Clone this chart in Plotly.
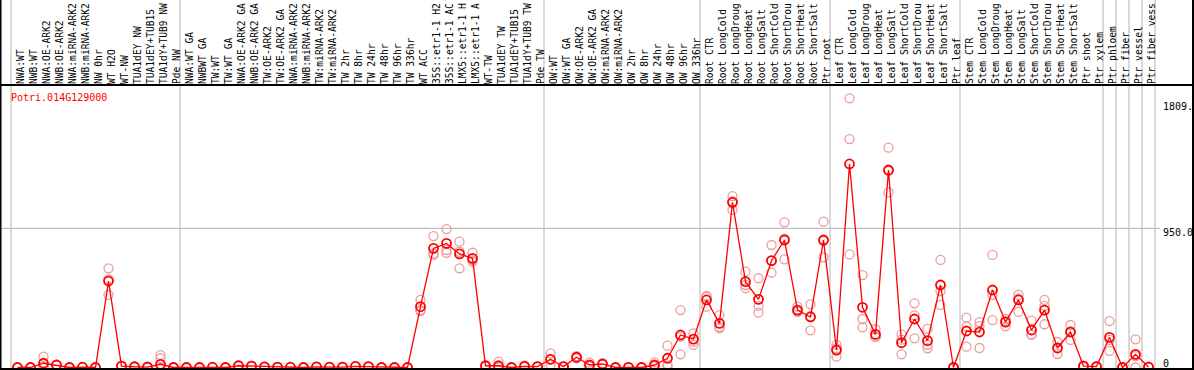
import plotly.graph_objects as go

categories = [
    "NWA:WT", "NWB:WT", "NWA:OE-ARK2", "NWB:OE-ARK2", "NWA:miRNA-ARK2", "NWB:miRNA-ARK2",
    "NW 0hr", "WT H2O", "WT-NW", "TUA1dEY NW", "TUA1dEY+TUB15", "TUA1dY+TUB9 NW", "Pde NW",
    "NWA:WT GA", "NWBWT GA", "TW:WT", "TW:WT GA", "NWA:OE-ARK2 GA", "NWB:OE-ARK2 GA",
    "TW:OE-ARK2", "TW:OE-ARK2 GA", "NWA:miRNA-ARK2", "NWB:miRNA-ARK2", "TW:miRNA-ARK2",
    "TW:miRNA-ARK2", "TW 2hr", "TW 8hr", "TW 24hr", "TW 48hr", "TW 96hr", "TW 336hr",
    "WT ACC", "35S::etr1-1 H2", "35S::etr1-1 AC", "LMX5::etr1-1 H", "LMX5::etr1-1 A",
    "WT-TW", "TUA1dEY TW", "TUA1dEY+TUB15", "TUA1dY+TUB9 TW", "Pde TW",
    "OW:WT", "OW:WT GA", "OW:OE-ARK2", "OW:OE-ARK2 GA", "OW:miRNA-ARK2", "OW:miRNA-ARK2",
    "OW 2hr", "OW 8hr", "OW 24hr", "OW 48hr", "OW 96hr", "OW 336hr",
    "Root CTR", "Root LongCold", "Root LongDroug", "Root LongHeat", "Root LongSalt",
    "Root ShortCold", "Root ShortDrou", "Root ShortHeat", "Root ShortSalt", "Ptr root",
    "Leaf CTR", "Leaf LongCold", "Leaf LongDroug", "Leaf LongHeat", "Leaf LongSalt",
    "Leaf ShortCold", "Leaf ShortDrou", "Leaf ShortHeat", "Leaf ShortSalt", "Ptr leaf",
    "Stem CTR", "Stem LongCold", "Stem LongDroug", "Stem LongHeat", "Stem LongSalt",
    "Stem ShortCold", "Stem ShortDrou", "Stem ShortHeat", "Stem ShortSalt",
    "Ptr shoot", "Ptr xylem", "Ptr phloem", "Ptr fiber", "Ptr vessel", "Ptr fiber vess",
]

# group sizes (vertical separators between groups)
group_sizes = [13, 28, 12, 10, 10, 11, 1, 1, 1, 1]

mean_values = [
    0, 0, 29, 17, 0, 2, 0, 590, 10, 5, 3, 22, 0,
    0, 0, 2, 0, 12, 10, 4, 3, 2, 0, 4, 3, 3, 8, 6, 0, 0, 0,
    415, 813, 847, 775, 745, 12, 12, 0, 8, 6,
    56, 6, 70, 17, 24, 0, 1, 0, 17, 63, 222, 194,
    461, 301, 1127, 586, 465, 729, 870, 392, 345, 870,
    119, 1389, 411, 226, 1348, 169, 331, 183, 563, 0,
    249, 242, 529, 310, 461, 256, 392, 133, 242, 10, 6,
    206, 0, 90, 3,
]

replicates = [
    [0, 0, 0], [0, 0, 2], [74, 10, 3], [20, 15, 16], [0, 0, 0], [3, 2, 1], [0, 0, 0],
    [677, 602, 495], [12, 10, 8], [5, 4, 6], [8, 1, 0], [85, 63, 0], [0, 0, 0],
    [0, 0, 0], [0, 0, 1], [3, 2, 1], [0, 0, 0], [15, 12, 9], [12, 10, 8], [5, 4, 3],
    [4, 3, 2], [3, 2, 1], [0, 0, 0], [5, 4, 3], [4, 3, 2], [4, 3, 2], [10, 8, 6],
    [8, 6, 4], [0, 0, 0], [0, 0, 0], [0, 0, 0],
    [461, 392, 385], [897, 779, 768], [945, 802, 783], [859, 677, 790], [783, 733, 722],
    [14, 12, 10], [40, 0, 0], [0, 0, 0], [15, 5, 4], [8, 5, 5],
    [97, 56, 17], [8, 6, 4], [78, 70, 62], [33, 10, 8], [28, 24, 20], [0, 0, 0],
    [3, 1, 0], [0, 0, 0], [35, 10, 6], [149, 22, 6], [392, 210, 90], [233, 176, 154],
    [488, 480, 415], [358, 267, 278], [1170, 1135, 1075], [654, 563, 541], [609, 420, 374],
    [836, 729, 647], [991, 880, 738], [415, 381, 380], [431, 350, 254], [995, 862, 752],
    [154, 130, 74], [1837, 1559, 772], [631, 331, 274], [261, 210, 207], [1500, 1341, 1195],
    [226, 190, 90], [438, 356, 199], [263, 155, 131], [734, 522, 427], [0, 0, 0],
    [340, 279, 142], [310, 283, 133], [768, 495, 324], [331, 318, 281], [495, 470, 379],
    [320, 226, 222], [461, 420, 295], [174, 133, 92], [290, 248, 188], [15, 10, 5],
    [10, 6, 2], [317, 188, 113], [0, 0, 0], [192, 78, 0], [5, 3, 1],
]

gene_title = "Potri.014G129000"
y_tick_values = [1809, 950, 0]
y_tick_texts = ["1809.", "950.0", "0"]

W, H = 1194, 370
TOP = 85  # pixel row of the separator between labels and plot
MONO = "DejaVu Sans Mono"

x_idx = list(range(len(categories)))
rep_x, rep_y = [], []
for i, reps in enumerate(replicates):
    for v in reps:
        rep_x.append(i)
        rep_y.append(v)

fig = go.Figure()
fig.add_trace(go.Scatter(
    x=rep_x, y=rep_y, mode="markers",
    marker=dict(symbol="circle-open", size=9, color="#ec9c9c", line=dict(width=1.3, color="#ec9c9c")),
    hoverinfo="skip", showlegend=False, cliponaxis=True,
))
fig.add_trace(go.Scatter(
    x=x_idx, y=mean_values, mode="lines+markers",
    line=dict(color="#ff0000", width=1.3),
    marker=dict(symbol="circle-open", size=9, color="#ff0000", line=dict(width=1.8, color="#ff0000")),
    showlegend=False, cliponaxis=True,
))

# axis scaling: 0 -> pixel 367.5, 950 -> pixel 228.3
k = (367.5 - 228.3) / 950.0
plot_h = H - TOP
ymax = (367.5 - TOP) / k
ymin = ymax - plot_h / k
xmin = -17.5 / 13.0
xmax = xmin + W / 13.0

shapes = []
b = 0
bounds = [0]
for g in group_sizes:
    b += g
    bounds.append(b)
for bd in bounds:
    shapes.append(dict(type="line", xref="x", yref="paper", x0=bd - 0.5, x1=bd - 0.5,
                       y0=0, y1=1, line=dict(color="#c0c0c0", width=1.2), layer="below"))
shapes.append(dict(type="line", xref="paper", yref="y", x0=0, x1=1160 / W, y0=950, y1=950,
                   line=dict(color="#c0c0c0", width=1.2), layer="below"))
sep_y = 1 - TOP / H
shapes.append(dict(type="line", xref="paper", yref="paper", x0=0, x1=1, y0=sep_y, y1=sep_y,
                   line=dict(color="black", width=2)))
shapes.append(dict(type="line", xref="paper", yref="paper", x0=0, x1=1, y0=1 / H, y1=1 / H,
                   line=dict(color="black", width=2)))
shapes.append(dict(type="line", xref="paper", yref="paper", x0=0.5 / W, x1=0.5 / W, y0=0, y1=1,
                   line=dict(color="black", width=2)))
shapes.append(dict(type="line", xref="paper", yref="paper", x0=1 - 1 / W, x1=1 - 1 / W, y0=0, y1=1,
                   line=dict(color="black", width=2)))

annotations = [dict(
    text=gene_title, xref="paper", yref="paper", x=9 / W, y=1 - 97 / H,
    xanchor="left", yanchor="middle", showarrow=False,
    font=dict(family=MONO, size=10, color="#ff0000"),
)]
for v, t in zip(y_tick_values, y_tick_texts):
    annotations.append(dict(
        text=t, xref="paper", yref="y", x=1161 / W, y=v,
        xanchor="left", yanchor=("bottom" if v == 0 else "top"), showarrow=False,
        yshift=(-3 if v == 0 else 3),
        font=dict(family=MONO, size=10, color="black"),
    ))

fig.update_layout(
    template="none",
    width=W, height=H,
    margin=dict(l=0, r=0, t=0, b=0, pad=0),
    paper_bgcolor="white", plot_bgcolor="white",
    showlegend=False,
    xaxis=dict(
        range=[xmin, xmax], side="top", anchor="y",
        tickmode="array", tickvals=x_idx, ticktext=categories,
        tickangle=-90, ticks="", showgrid=False, zeroline=False, showline=False,
        tickfont=dict(family=MONO, size=9.6, color="black"),
        automargin=False, ticklabelstandoff=0, ticklabelshift=3,
    ),
    yaxis=dict(
        range=[ymin, ymax], domain=[0, plot_h / H],
        showticklabels=False, ticks="", showgrid=False, zeroline=False, showline=False,
        automargin=False,
    ),
    shapes=shapes,
    annotations=annotations,
)

fig.write_html(
    "out.html",
    config={"displayModeBar": False},
    post_script="document.body.style.margin='0';document.body.style.overflow='hidden';",
)
